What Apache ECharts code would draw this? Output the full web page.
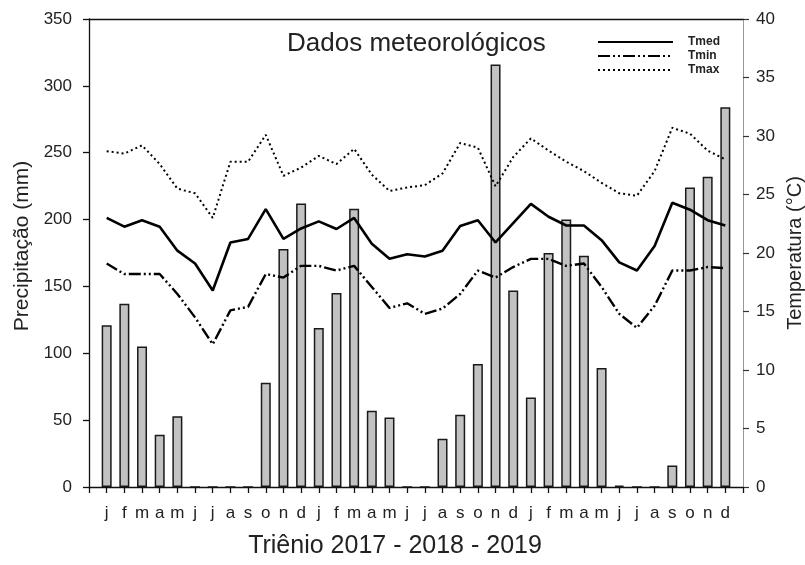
<!DOCTYPE html>
<html>
<head>
<meta charset="utf-8">
<script src="https://cdn.jsdelivr.net/npm/echarts@6/dist/echarts.min.js"></script>
<style>
  html, body { margin: 0; padding: 0; background: #fff; }
  #chart { width: 805px; height: 565px; }
</style>
</head>
<body>
<div id="chart"></div>
<script>
// meses (rótulos do eixo x), três anos seguidos
const months = ['j','f','m','a','m','j','j','a','s','o','n','d',
                'j','f','m','a','m','j','j','a','s','o','n','d',
                'j','f','m','a','m','j','j','a','s','o','n','d'];

// precipitação mensal (mm)
const precip = [121, 137, 105, 39, 53, 0, 0, 0, 0, 78, 178, 212,
                119, 145, 208, 57, 52, 0, 0, 36, 54, 92, 316, 147,
                67, 175, 200, 173, 89, 1, 0, 0, 16, 224, 232, 284];

// temperaturas (°C)
const tmed = [23.0, 22.25, 22.8, 22.25, 20.2, 19.1, 16.8, 20.9, 21.2, 23.75, 21.2, 22.1,
              22.7, 22.05, 23.0, 20.8, 19.5, 19.9, 19.7, 20.2, 22.3, 22.8, 20.9, 22.55,
              24.2, 23.1, 22.35, 22.35, 21.1, 19.2, 18.5, 20.6, 24.3, 23.7, 22.8, 22.35];
const tmin = [19.1, 18.2, 18.2, 18.2, 16.5, 14.5, 12.2, 15.1, 15.4, 18.2, 17.9, 18.9,
              18.9, 18.5, 18.9, 17.1, 15.3, 15.7, 14.8, 15.25, 16.5, 18.5, 17.9, 18.8,
              19.5, 19.5, 18.9, 19.1, 17.1, 14.8, 13.6, 15.5, 18.5, 18.5, 18.8, 18.7];
const tmax = [28.7, 28.5, 29.2, 27.6, 25.5, 25.1, 23.0, 27.8, 27.8, 30.1, 26.6, 27.3,
              28.3, 27.6, 28.9, 26.7, 25.3, 25.6, 25.8, 26.8, 29.4, 29.0, 25.7, 28.2,
              29.8, 28.75, 27.8, 27.0, 26.0, 25.1, 24.9, 27.0, 30.7, 30.2, 28.75, 28.0];

const FONT = 'Liberation Sans, Arial, sans-serif';
const INK = '#222';

// posição x = número do mês (1..36), eixo de 0 a 37
const pairs = arr => arr.map((v, i) => [i + 1, v]);

const chart = echarts.init(document.getElementById('chart'), null, { renderer: 'canvas' });

chart.setOption({
  animation: false,
  textStyle: { fontFamily: FONT, color: INK },
  title: {
    text: 'Dados meteorológicos',
    left: 282, top: 26,
    textStyle: { fontFamily: FONT, fontSize: 26, fontWeight: 'normal', color: INK },
  },
  legend: {
    orient: 'vertical',
    left: 597, top: 36, padding: 0,
    itemWidth: 75, itemHeight: 12, itemGap: 2,
    itemStyle: { opacity: 0 },
    textStyle: { fontFamily: FONT, fontSize: 12, fontWeight: 'bold', color: INK, padding: [0, 0, 0, 10] },
    data: ['Tmed', 'Tmin', 'Tmax'],
  },
  grid: { left: 89, right: 62, top: 19, bottom: 78, outerBoundsMode: 'none', containLabel: false },
  xAxis: [{
    type: 'value',
    min: 0, max: 37, interval: 1,
    z: 5,
    name: 'Triênio 2017 - 2018 - 2019',
    nameLocation: 'middle', nameGap: 47,
    nameTextStyle: { fontFamily: FONT, fontSize: 25, color: INK, padding: [0, 42, 0, 0] },
    axisLine: { onZero: false, lineStyle: { color: '#111', width: 1.3 } },
    axisTick: { length: 6, lineStyle: { color: '#111', width: 1.3 } },
    axisLabel: {
      margin: 18, fontSize: 17, color: INK, fontFamily: FONT,
      showMinLabel: true, showMaxLabel: true,
      formatter: v => months[v - 1] || '',
    },
    splitLine: { show: false },
  }, {
    type: 'value', position: 'top',
    min: 0, max: 37,
    axisLine: { show: true, onZero: false, lineStyle: { color: '#111', width: 1.3 } },
    axisTick: { show: false }, axisLabel: { show: false }, splitLine: { show: false },
  }],
  yAxis: [{
    type: 'value',
    min: 0, max: 350, interval: 50,
    name: 'Precipitação (mm)',
    nameLocation: 'middle', nameGap: 54,
    nameTextStyle: { fontFamily: FONT, fontSize: 21, color: INK, padding: [0, 0, 0, 14] },
    axisLine: { show: true, onZero: false, lineStyle: { color: '#111', width: 1.3 } },
    axisTick: { show: true, length: 6, lineStyle: { color: '#111', width: 1.3 } },
    axisLabel: { margin: 17, fontSize: 17, color: INK, fontFamily: FONT },
    splitLine: { show: false },
  }, {
    type: 'value',
    position: 'right',
    min: 0, max: 40, interval: 5,
    name: 'Temperatura (°C)',
    nameLocation: 'middle', nameGap: 42,
    nameRotate: 90,
    nameTextStyle: { fontFamily: FONT, fontSize: 20, color: INK },
    axisLine: { show: true, onZero: false, lineStyle: { color: '#999', width: 1 } },
    axisTick: { show: true, length: 6, lineStyle: { color: '#333', width: 1.2 } },
    axisLabel: { margin: 13, fontSize: 17, color: INK, fontFamily: FONT },
    splitLine: { show: false },
  }],
  series: [
    {
      name: 'Precipitação',
      type: 'bar',
      xAxisIndex: 0, yAxisIndex: 0,
      z: 1,
      barWidth: 10,
      itemStyle: { color: '#c2c2c2', borderColor: '#1a1a1a', borderWidth: 1.5 },
      data: pairs(precip),
    },
    {
      name: 'Tmed',
      type: 'line', xAxisIndex: 0, yAxisIndex: 1,
      symbol: 'none',
      lineStyle: { color: '#000', width: 2.6, type: 'solid' },
      data: pairs(tmed),
    },
    {
      name: 'Tmin',
      type: 'line', xAxisIndex: 0, yAxisIndex: 1,
      symbol: 'none',
      lineStyle: { color: '#000', width: 2.4, type: [12, 3, 2, 3, 2, 3] },
      data: pairs(tmin),
    },
    {
      name: 'Tmax',
      type: 'line', xAxisIndex: 0, yAxisIndex: 1,
      symbol: 'none',
      lineStyle: { color: '#000', width: 2, type: [2, 3] },
      data: pairs(tmax),
    },
  ],
});
</script>
</body>
</html>
